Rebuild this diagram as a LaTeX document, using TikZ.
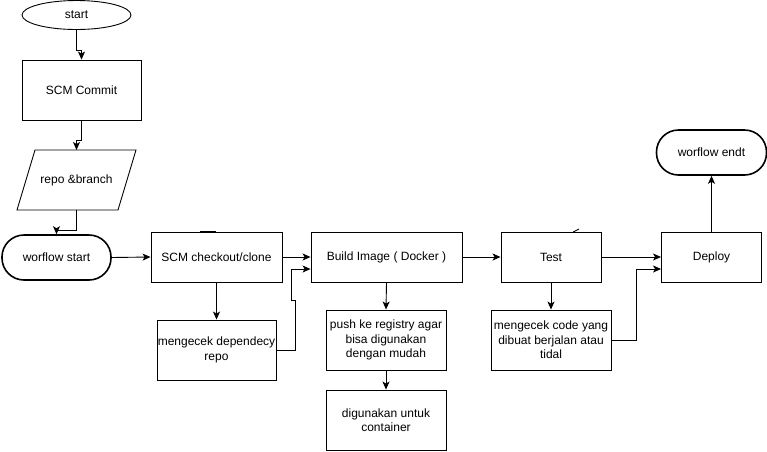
\documentclass[tikz,border=0pt]{standalone}
\usepackage{fontspec}
\setmainfont{Liberation Sans}
\usetikzlibrary{shapes.geometric,arrows.meta,calc}

\begin{document}
\begin{tikzpicture}[x=1pt,y=-1pt,line width=0.9pt,
    font=\fontsize{12}{14.5}\selectfont,
    box/.style={draw, rectangle, align=center, inner sep=0pt},
    term/.style={draw, line width=1.6pt, rounded corners=22pt, minimum width=109pt, minimum height=45pt},
    arr/.style={-{Stealth[length=8pt,width=7pt,inset=2pt]}}]
    \useasboundingbox (0,0) rectangle (767,451);

    % left column
    \node[draw, ellipse, minimum width=109pt, minimum height=29pt] (start) at (76.5,15) {start};
    \node[box, minimum width=119pt, minimum height=60pt] (commit) at (81.5,90) {SCM Commit};
    \node[minimum width=119pt, minimum height=60pt, outer sep=0pt] (repo) at (76.5,180) {repo \&branch};
    \draw ($(repo.north west)+(18,0)$) -- (repo.north east) -- ($(repo.south east)+(-18,0)$) -- (repo.south west) -- cycle;
    \node[term] (wstart) at (56.5,257.5) {worflow start};

    % main row
    \node[box, minimum width=131pt, minimum height=50pt] (checkout) at (216.5,257) {SCM checkout/clone};
    \node[box, minimum width=151pt, minimum height=50pt] (build) at (386.5,257) {Build Image ( Docker )};
    \node[box, minimum width=100pt, minimum height=50pt] (test) at (551,257) {Test};
    \node[box, minimum width=100pt, minimum height=50pt] (deploy) at (711.5,257) {Deploy};
    \node[term, minimum width=110pt] (wend) at (711.5,152.5) {worflow endt};

    % notes below
    \node[box, minimum width=119pt, minimum height=60pt] (dep) at (216.5,350) {mengecek dependecy\\repo};
    \node[box, minimum width=120pt, minimum height=60pt] (push) at (386,340) {push ke registry agar\\bisa digunakan\\dengan mudah};
    \node[box, minimum width=120pt, minimum height=60pt] (cont) at (386,420) {digunakan untuk\\container};
    \node[box, minimum width=120pt, minimum height=60pt] (code) at (551,340) {mengecek code yang\\dibuat berjalan atau\\tidal};

    % connectors
    \draw[arr] (start.south) -- ++(0,20) -| (commit.north);
    \draw[arr] (commit.south) -- ++(0,20) -| (repo.north);
    \draw[arr] (repo.south) -- ++(0,20) -| (wstart.north);
    \draw[arr] (wstart.east) -- (checkout.west);
    \draw[arr] (checkout.east) -- (build.west);
    \draw[arr] (build.east) -- (test.west);
    \draw[arr] (test.east) -- (deploy.west);
    \draw[arr] (deploy.north) -- (wend.south);
    \draw[arr] (checkout.south) -- (dep.north);
    \draw[arr] (build.south) -- (push.north);
    \draw[arr] (push.south) -- (cont.north);
    \draw[arr] (test.south) -- (code.north);
    \draw[arr] (dep.east) -- ++(19,0) -- ++(0,-50) -- ++(-4,0) |- ($(build.west)+(0,12)$);
    \draw[arr] (code.east) -- ++(25,0) |- ($(deploy.west)+(0,12)$);

    % small stray marks on the box tops
    \draw (200,231) -- (216,231);
    \draw (573,232) -- (579,229);
\end{tikzpicture}
\end{document}
